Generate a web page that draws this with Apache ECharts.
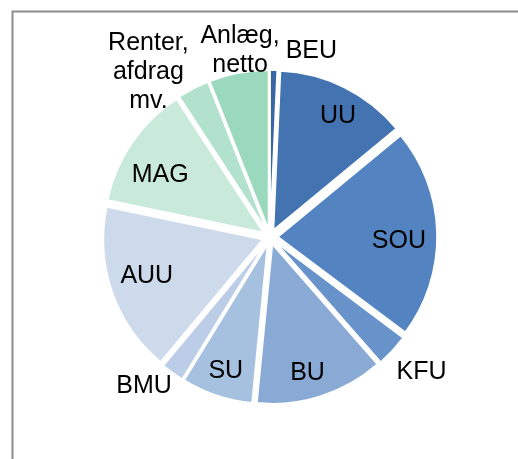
<!DOCTYPE html>
<html>
<head>
<meta charset="utf-8">
<script src="https://cdn.jsdelivr.net/npm/echarts@6/dist/echarts.min.js"></script>
<style>
html,body{margin:0;padding:0;background:#fff;}
#c{width:518px;height:459px;}
</style>
</head>
<body>
<div id="c"></div>
<script>
// Data (percent shares, clockwise from 12 o'clock)
var categories = ['BEU', 'UU', 'SOU', 'KFU', 'BU', 'SU', 'BMU', 'AUU', 'MAG', 'Renter,\nafdrag\nmv.', 'Anlæg,\nnetto'];
var values = [0.7, 13.3, 21.2, 3.3, 13.0, 7.2, 2.3, 17.2, 12.5, 3.2, 6.0];
var colors = ['#3A66A6', '#4473B2', '#5384C1', '#6893CA', '#89AAD4', '#A6C0E0', '#BCCEE7', '#CDDAEB', '#C9EADB', '#B2E2CD', '#9AD9BE'];
var outsideLabels = ['BEU', 'KFU', 'BMU', 'Renter,\nafdrag\nmv.', 'Anlæg,\nnetto'];
var labelOffsets = {
  'BEU': [37, 11],
  'UU': [6, 3],
  'SOU': [-10, 7],
  'KFU': [7, 1],
  'BU': [-5, 4],
  'SU': [0, 2],
  'BMU': [-11, -11],
  'AUU': [8, -7],
  'MAG': [5, 16],
  'Renter,\nafdrag\nmv.': [-31, 10],
  'Anlæg,\nnetto': [7, 7]
};

var chart = echarts.init(document.getElementById('c'), null, {renderer: 'canvas'});
var CX = 270, CY = 237, R = 159;
var font = {fontFamily: '"Liberation Sans", Arial, sans-serif', fontSize: 25, color: '#000', lineHeight: 29};

var mainData = categories.map(function (c, i) {
  return {name: c, value: values[i], selected: true, itemStyle: {color: colors[i]}};
});
var innerLabelData = categories.map(function (c, i) {
  return {name: c, value: values[i], label: {show: outsideLabels.indexOf(c) < 0, offset: labelOffsets[c] || [0, 0]}};
});
var outerLabelData = categories.map(function (c, i) {
  var o = outsideLabels.indexOf(c) >= 0;
  return {name: c, value: values[i], label: {show: o, offset: labelOffsets[c] || [0, 0]}};
});

var transparent = {color: 'rgba(0,0,0,0)', borderWidth: 0};

chart.setOption({
  animation: false,
  graphic: [{
    type: 'rect', left: 10, top: 9,
    shape: {width: 600, height: 600},
    style: {fill: 'none', stroke: '#8C8C8C', lineWidth: 2},
    silent: true
  }],
  series: [{
    type: 'pie',
    center: [CX, CY],
    radius: [0, R],
    startAngle: 90,
    clockwise: true,
    selectedMode: 'multiple',
    selectedOffset: 8,
    avoidLabelOverlap: false,
    label: {show: false},
    labelLine: {show: false},
    itemStyle: {borderColor: '#fff', borderWidth: 1.5},
    emphasis: {disabled: true},
    select: {itemStyle: {borderColor: '#fff', borderWidth: 1.5}},
    silent: true,
    data: mainData
  }, {
    type: 'pie',
    center: [CX, CY],
    radius: [R * 0.71, R],
    startAngle: 90,
    clockwise: true,
    avoidLabelOverlap: false,
    silent: true,
    itemStyle: transparent,
    emphasis: {disabled: true},
    label: Object.assign({position: 'inside'}, font),
    labelLine: {show: false},
    data: innerLabelData
  }, {
    type: 'pie',
    center: [CX, CY],
    radius: [R, R + 70],
    startAngle: 90,
    clockwise: true,
    avoidLabelOverlap: false,
    silent: true,
    itemStyle: transparent,
    emphasis: {disabled: true},
    label: Object.assign({position: 'inside', align: 'center'}, font),
    labelLine: {show: false},
    data: outerLabelData
  }]
});
</script>
</body>
</html>
